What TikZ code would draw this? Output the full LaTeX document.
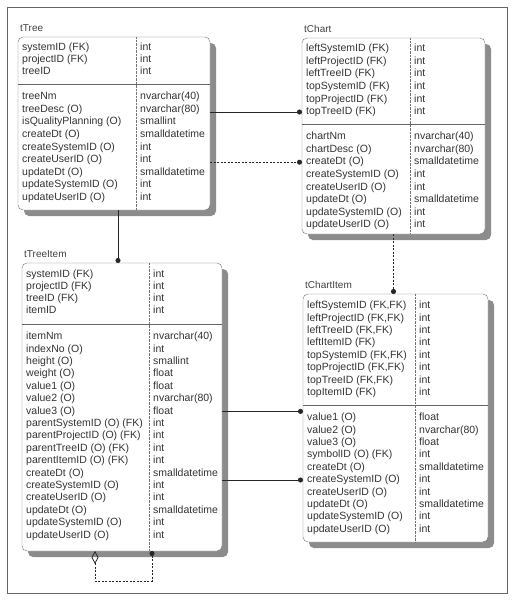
\documentclass[tikz,border=0pt]{standalone}
\usepackage{fontspec}
\setmainfont{Liberation Sans}
\usetikzlibrary{arrows.meta, positioning, shadows}

\begin{document}
\begin{tikzpicture}[x=1pt, y=-1pt,
    entitybox/.style={draw=black!55, thin, fill=white, rounded corners=5pt, anchor=north west,
        inner sep=0pt, outer sep=0pt,
        drop shadow={shadow xshift=6pt, shadow yshift=-6pt, fill=black!45, opacity=1}},
    tabletitle/.style={font=\fontsize{10}{12}\selectfont, text=black!75, inner sep=0pt},
    fieldtxt/.style={font=\fontsize{10.5}{12}\selectfont, text=black!80, inner sep=0pt,
        anchor=west, text height=7.5pt, text depth=2pt},
    coldiv/.style={black!55, densely dotted},
    keysep/.style={black!60, semithick},
    ident/.style={black!85, line width=0.8pt, -{Circle[length=5pt]}},
    nonident/.style={ident, dash pattern=on 2pt off 1.5pt}]

    \useasboundingbox (0,0) rectangle (512,600);
    % Frame
    \draw[black!60] (7,7) rectangle (507,593);

    % Entity tTree
    \node[entitybox, minimum width=192pt, minimum height=173pt] (tTree) at (18,37) {};
    \node[tabletitle, above right=5pt and 2pt of tTree.north west] (tTreeTitle) {tTree};
    \draw[coldiv] (136,37) -- (136,210);
    \draw[keysep] (18,84) -- (210,84);
    \foreach \fname/\ftype [count=\i] in {systemID (FK)/int, projectID (FK)/int, treeID/int} {
        \node[fieldtxt] (tTree-k\i) at (22,{48+12*(\i-1)}) {\fname};
        \node[fieldtxt] (tTree-kt\i) at (140,{48+12*(\i-1)}) {\ftype};
    }
    \foreach \fname/\ftype [count=\i] in {treeNm/nvarchar(40), treeDesc (O)/nvarchar(80),
        isQualityPlanning (O)/smallint, createDt (O)/smalldatetime, createSystemID (O)/int,
        createUserID (O)/int, updateDt (O)/smalldatetime, updateSystemID (O)/int, updateUserID (O)/int} {
        \node[fieldtxt] (tTree-b\i) at (22,{97+12.6*(\i-1)}) {\fname};
        \node[fieldtxt] (tTree-bt\i) at (140,{97+12.6*(\i-1)}) {\ftype};
    }

    % Entity tChart
    \node[entitybox, minimum width=183pt, minimum height=196pt] (tChart) at (302,38) {};
    \node[tabletitle, above right=5pt and 2pt of tChart.north west] (tChartTitle) {tChart};
    \draw[coldiv] (410,38) -- (410,234);
    \draw[keysep] (302,124) -- (485,124);
    \foreach \fname/\ftype [count=\i] in {leftSystemID (FK)/int, leftProjectID (FK)/int,
        leftTreeID (FK)/int, topSystemID (FK)/int, topProjectID (FK)/int, topTreeID (FK)/int} {
        \node[fieldtxt] (tChart-k\i) at (306,{49+12.6*(\i-1)}) {\fname};
        \node[fieldtxt] (tChart-kt\i) at (414,{49+12.6*(\i-1)}) {\ftype};
    }
    \foreach \fname/\ftype [count=\i] in {chartNm/nvarchar(40), chartDesc (O)/nvarchar(80),
        createDt (O)/smalldatetime, createSystemID (O)/int, createUserID (O)/int,
        updateDt (O)/smalldatetime, updateSystemID (O)/int, updateUserID (O)/int} {
        \node[fieldtxt] (tChart-b\i) at (306,{137+12.6*(\i-1)}) {\fname};
        \node[fieldtxt] (tChart-bt\i) at (414,{137+12.6*(\i-1)}) {\ftype};
    }

    % Entity tTreeItem
    \node[entitybox, minimum width=200pt, minimum height=288pt] (tTreeItem) at (22,263) {};
    \node[tabletitle, above right=5pt and 2pt of tTreeItem.north west] (tTreeItemTitle) {tTreeItem};
    \draw[coldiv] (149,263) -- (149,551);
    \draw[keysep] (22,324) -- (222,324);
    \foreach \fname/\ftype [count=\i] in {systemID (FK)/int, projectID (FK)/int,
        treeID (FK)/int, itemID/int} {
        \node[fieldtxt] (tTreeItem-k\i) at (26,{275+12*(\i-1)}) {\fname};
        \node[fieldtxt] (tTreeItem-kt\i) at (153,{275+12*(\i-1)}) {\ftype};
    }
    \foreach \fname/\ftype [count=\i] in {itemNm/nvarchar(40), indexNo (O)/int, height (O)/smallint,
        weight (O)/float, value1 (O)/float, value2 (O)/nvarchar(80), value3 (O)/float,
        parentSystemID (O) (FK)/int, parentProjectID (O) (FK)/int, parentTreeID (O) (FK)/int,
        parentItemID (O) (FK)/int, createDt (O)/smalldatetime, createSystemID (O)/int,
        createUserID (O)/int, updateDt (O)/smalldatetime, updateSystemID (O)/int, updateUserID (O)/int} {
        \node[fieldtxt] (tTreeItem-b\i) at (26,{337+12.4*(\i-1)}) {\fname};
        \node[fieldtxt] (tTreeItem-bt\i) at (153,{337+12.4*(\i-1)}) {\ftype};
    }

    % Entity tChartItem
    \node[entitybox, minimum width=185pt, minimum height=248pt] (tChartItem) at (303,294) {};
    \node[tabletitle, above right=5pt and 2pt of tChartItem.north west] (tChartItemTitle) {tChartItem};
    \draw[coldiv] (415,294) -- (415,542);
    \draw[keysep] (303,405) -- (488,405);
    \foreach \fname/\ftype [count=\i] in {{leftSystemID (FK,FK)}/int, {leftProjectID (FK,FK)}/int,
        {leftTreeID (FK,FK)}/int, leftItemID (FK)/int, {topSystemID (FK,FK)}/int,
        {topProjectID (FK,FK)}/int, {topTreeID (FK,FK)}/int, topItemID (FK)/int} {
        \node[fieldtxt] (tChartItem-k\i) at (307,{306+12.4*(\i-1)}) {\fname};
        \node[fieldtxt] (tChartItem-kt\i) at (419,{306+12.4*(\i-1)}) {\ftype};
    }
    \foreach \fname/\ftype [count=\i] in {value1 (O)/float, value2 (O)/nvarchar(80), value3 (O)/float,
        symbolID (O) (FK)/int, createDt (O)/smalldatetime, createSystemID (O)/int,
        createUserID (O)/int, updateDt (O)/smalldatetime, updateSystemID (O)/int, updateUserID (O)/int} {
        \node[fieldtxt] (tChartItem-b\i) at (307,{418+12.4*(\i-1)}) {\fname};
        \node[fieldtxt] (tChartItem-bt\i) at (419,{418+12.4*(\i-1)}) {\ftype};
    }

    % Relationships
    \draw[ident] (tTree.east |- tChart-k6) -- (tChart.west |- tChart-k6);
    \draw[nonident] (tTree.east |- tChart-b3) -- (tChart.west |- tChart-b3);
    \draw[ident] ([xshift=4pt]tTree.south) -- ([xshift=4pt]tTree.south |- tTreeItem.north);
    \draw[nonident] (tChart.south) -- (tChart.south |- tChartItem.north);
    \draw[ident] (tTreeItem.east |- tTreeItem-b7) -- (tChartItem.west |- tTreeItem-b7);
    \draw[ident] (tTreeItem.east |- tChartItem-b6) -- (tChartItem.west |- tChartItem-b6);

    % Self relationship
    \coordinate (selfFrom) at (95,551);
    \coordinate (selfTo) at (152,551);
    \draw[nonident, {Diamond[open, length=13pt, width=7pt]}-{Circle[length=5pt]}]
        (selfFrom) -- ++(0,30) -| (selfTo);
\end{tikzpicture}
\end{document}
